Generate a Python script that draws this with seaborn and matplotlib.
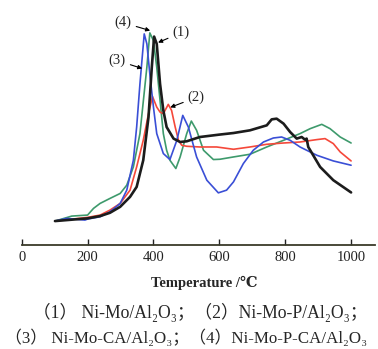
import matplotlib
matplotlib.use("Agg")
import matplotlib.pyplot as plt
import seaborn as sns
import pandas as pd

# ---- data (signal in arbitrary units) ----
x1 = [101, 200, 238, 268, 299, 329, 349, 369, 385, 395, 402, 410, 420, 430, 440, 461, 481, 501, 541, 600,
      643, 693, 744, 759, 774, 795, 815, 835, 850, 860, 865, 870, 876, 906, 946, 1000]
y1 = [24, 26.7, 29, 32.3, 38.3, 48.3, 58.3, 85, 128.3, 178.3, 209, 201.7, 161.7, 135, 118.3, 106.7, 103.3, 104,
      108.3, 110.7, 112.3, 115, 120, 126, 126.7, 121.7, 113.3, 106.7, 108.3, 105.7, 106.7, 98.3, 95, 78.3, 65, 52.7]

x2 = [101, 200, 238, 268, 299, 329, 349, 369, 385, 397, 410, 420, 430, 445, 455, 466, 476, 486, 501, 541,
      592, 643, 693, 744, 795, 845, 896, 921, 946, 967, 1000]
y2 = [24, 27.7, 30, 35, 41.7, 55, 78.3, 105, 131.7, 149, 138.3, 133.3, 131.7, 141, 135, 118.3, 105, 100, 99,
      98.3, 98.3, 96, 98.3, 101, 102.3, 103.3, 105.7, 106.7, 101.7, 93.3, 84.3]

x3 = [101, 137, 192, 200, 238, 268, 299, 319, 339, 349, 359, 372, 380, 390, 400, 410, 430, 450, 471, 489,
      506, 531, 562, 597, 622, 643, 673, 703, 734, 764, 789, 815, 845, 896, 946, 1000]
y3 = [24, 26.7, 25, 26, 28.3, 33.3, 41.7, 55, 85, 118.3, 161.7, 211.7, 201.7, 168.3, 138.3, 111.7, 91.7, 85.7,
      105, 130, 118.3, 88.3, 65, 52.3, 55, 63.3, 81.7, 95, 103.3, 107.3, 108.3, 105, 98.3, 90, 84.3, 80]

x4 = [101, 152, 200, 218, 238, 268, 299, 319, 339, 359, 380, 389, 400, 410, 420, 430, 440, 450, 468, 481,
      501, 515, 531, 552, 582, 602, 643, 693, 744, 795, 845, 876, 911, 936, 967, 1000]
y4 = [24, 29, 30, 36.7, 41.7, 46.7, 51.7, 60, 78.3, 111.7, 178.3, 212.7, 205, 178.3, 145, 111.7, 95, 85, 76.7,
      88.3, 111.7, 124.3, 115, 95, 85.7, 86, 88.3, 91, 98.3, 105, 111.7, 116.7, 121, 116.7, 108.3, 102.3]

series_names = ["(1)", "(2)", "(3)", "(4)"]
xticks = [0, 200, 400, 600, 800, 1000]

df = pd.concat([
    pd.DataFrame({"T": x, "S": y, "sample": n})
    for x, y, n in zip([x1, x2, x3, x4], [y1, y2, y3, y4], series_names)
], ignore_index=True)

palette = {"(1)": "#1c1c1c", "(2)": "#f5483a", "(3)": "#3a4fd6", "(4)": "#3e9a6c"}

sns.set_style("white")
serif = ["Liberation Serif", "DejaVu Serif", "Noto Sans CJK SC"]
plt.rcParams["font.family"] = serif

fig = plt.figure(figsize=(3.78, 3.49), dpi=100)
ax = fig.add_axes([0.0574, 0.298, 0.935, 0.70])

for name in ["(4)", "(2)", "(3)", "(1)"]:
    sub = df[df["sample"] == name]
    sns.lineplot(data=sub, x="T", y="S", color=palette[name], ax=ax,
                 lw=1.9 if name == "(1)" else 1.2, estimator=None, sort=True, legend=False)

ax.set_xlim(0, 1073)
ax.set_ylim(0, 245)
ax.set_xticks(xticks)
ax.set_xticklabels([str(t) for t in xticks], fontsize=10.5)
ax.set_yticks([])
ax.set_ylabel("")
ax.set_xlabel("Temperature /℃", fontsize=10.5, fontweight="bold")
ax.xaxis.set_label_coords(0.516, -0.127)
for s in ["top", "right", "left"]:
    ax.spines[s].set_visible(False)
ax.spines["bottom"].set_color("#3a3a2a")
ax.spines["bottom"].set_linewidth(1.3)
ax.tick_params(axis="x", direction="in", length=4, width=1, pad=4, bottom=True, colors="#222222")

ap = dict(arrowstyle="-|>", color="black", lw=0.8, mutation_scale=6, shrinkA=1, shrinkB=0)
ax.annotate("(4)", xy=(390, 215), xytext=(308, 223), fontsize=10.5, ha="center", va="center", arrowprops=ap)
ax.annotate("(1)", xy=(414, 203), xytext=(484, 213), fontsize=10.5, ha="center", va="center", arrowprops=ap)
ax.annotate("(3)", xy=(366, 177), xytext=(290, 185), fontsize=10.5, ha="center", va="center", arrowprops=ap)
ax.annotate("(2)", xy=(451, 138), xytext=(530, 148), fontsize=10.5, ha="center", va="center", arrowprops=ap)

fig.text(0.529, 1 - 312 / 349, "（1） Ni-Mo/Al₂O₃；（2）Ni-Mo-P/Al₂O₃；", fontsize=12.7,
         ha="center", va="center", family=serif)
fig.text(0.012, 1 - 338 / 349, "（3） Ni-Mo-CA/Al₂O₃；（4）Ni-Mo-P-CA/Al₂O₃", fontsize=12.2,
         ha="left", va="center", family=serif)

fig.savefig("out.png", dpi=100)
